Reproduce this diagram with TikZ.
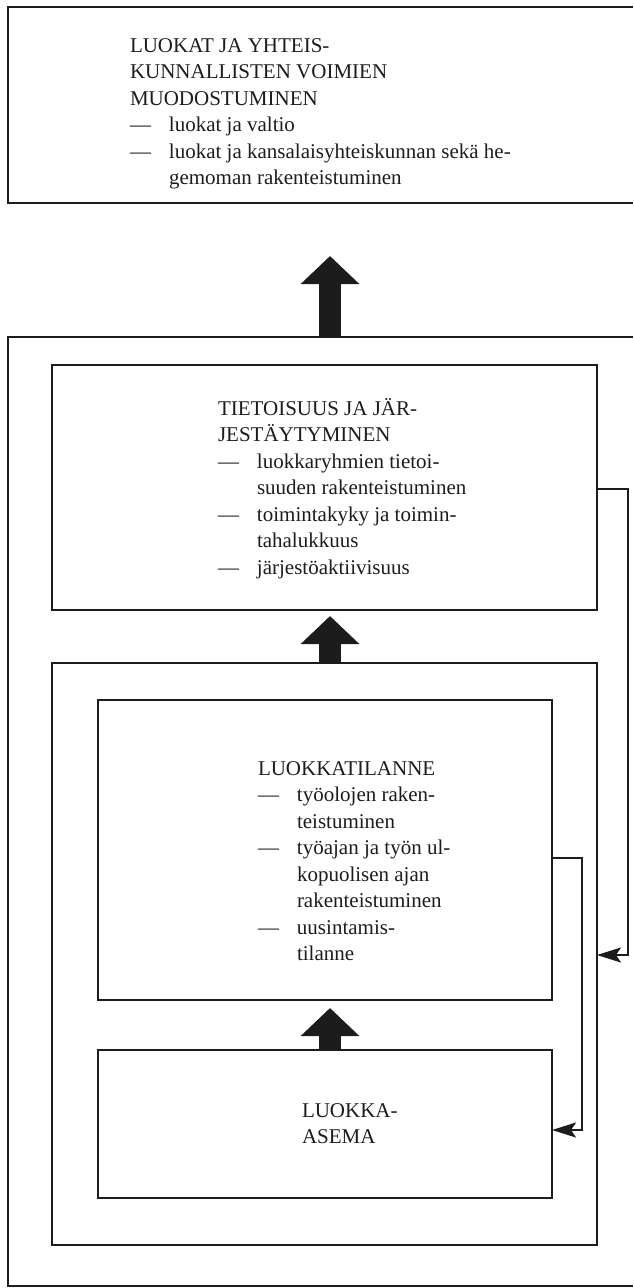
\documentclass[tikz,border=0pt]{standalone}
\usepackage{fontspec}
\setmainfont{Liberation Serif}
\usetikzlibrary{arrows.meta}
\definecolor{ink}{HTML}{1C1C1C}
\newcommand{\dashitem}{\makebox[39pt][l]{\textemdash}}
\newcommand{\contitem}{\hspace*{39pt}}
\begin{document}
\begin{tikzpicture}[x=1pt,y=-1pt,
  line width=1.8pt, draw=ink,
  frame/.style={draw=none, minimum width=#1, inner sep=0pt, outer sep=0pt},
  box/.style={draw=ink, line width=1.8pt, inner sep=0pt, outer sep=0pt},
  txt/.style={anchor=north west, inner sep=0pt, outer sep=0pt, align=left, text=ink,
    font=\fontsize{21pt}{26.5pt}\selectfont},
  blockarrow/.style={draw=ink, line width=22pt, -{Triangle[length=28pt,width=57pt]}},
  feedback/.style={draw=ink, line width=2pt, line join=miter, -{Stealth[length=24pt,width=15pt,inset=5pt]}}]
\useasboundingbox (0,0) rectangle (633,1288);
% top box (open to the right)
\node[frame=625pt, minimum height=196pt] (top) at (320.5,105) {};
\draw[line width=1.8pt] (top.north east) -- (top.north west) -- (top.south west) -- (top.south east);
% outer box (open to the right)
\node[frame=625pt, minimum height=949pt] (outer) at (320.5,811.5) {};
\draw[line width=1.8pt] (outer.north east) -- (outer.north west) -- (outer.south west) -- (outer.south east);
% inner boxes
\node[box, minimum width=545pt, minimum height=245pt] (box2) at (324.5,487.5) {};
\node[box, minimum width=545pt, minimum height=582pt] (box3o) at (324.5,954) {};
\node[box, minimum width=454pt, minimum height=300pt] (box3i) at (325,850) {};
\node[box, minimum width=454pt, minimum height=148pt] (box4) at (325,1124) {};
% texts
\node[txt] (ttop) at (130,32) {\rule{0pt}{20pt}LUOKAT JA YHTEIS-\\
KUNNALLISTEN VOIMIEN\\
MUODOSTUMINEN\\
\dashitem luokat ja valtio\\
\dashitem luokat ja kansalaisyhteiskunnan sekä he-\\
\contitem gemoman rakenteistuminen};
\node[txt] (tbox2) at (218,395) {\rule{0pt}{20pt}TIETOISUUS JA JÄR-\\
JESTÄYTYMINEN\\
\dashitem luokkaryhmien tietoi-\\
\contitem suuden rakenteistuminen\\
\dashitem toimintakyky ja toimin-\\
\contitem tahalukkuus\\
\dashitem järjestöaktiivisuus};
\node[txt] (tbox3) at (258,755) {\rule{0pt}{20pt}LUOKKATILANNE\\
\dashitem työolojen raken-\\
\contitem teistuminen\\
\dashitem työajan ja työn ul-\\
\contitem kopuolisen ajan\\
\contitem rakenteistuminen\\
\dashitem uusintamis-\\
\contitem tilanne};
\node[txt] (tbox4) at (302,1097) {\rule{0pt}{20pt}LUOKKA-\\
ASEMA};
% block arrows
\coordinate (ax) at (330,0);
\draw[blockarrow, shorten >=53pt] (outer.north -| ax) -- (top.south -| ax);
\draw[blockarrow, shorten >=6pt] (box3o.north -| ax) -- (box2.south -| ax);
\draw[blockarrow, shorten >=8pt] (box4.north -| ax) -- (box3i.south -| ax);
% feedback connectors
\coordinate (fb1) at (628,489);
\coordinate (fb1e) at (628,955);
\draw[feedback] (box2.east |- fb1) -- (fb1) -- (fb1e) -- (box3o.east |- fb1e);
\coordinate (fb2) at (582,858);
\coordinate (fb2e) at (582,1130);
\draw[feedback] (box3i.east |- fb2) -- (fb2) -- (fb2e) -- (box4.east |- fb2e);
\end{tikzpicture}
\end{document}
